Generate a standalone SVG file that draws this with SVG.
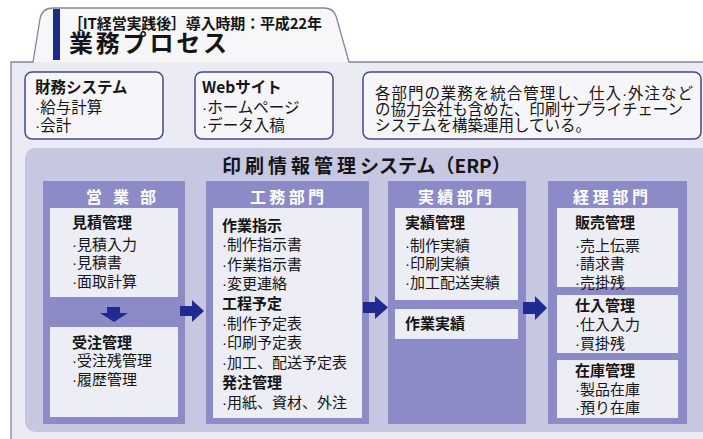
<svg xmlns="http://www.w3.org/2000/svg" width="703" height="439" viewBox="0 0 703 439">
<style>
text{font-family:"Noto Sans CJK JP","Noto Sans",sans-serif;fill:#151515;}
.b{font-weight:700;}
.t15{font-size:15px;}
.t16{font-size:15.5px;}
.d{font-family:"Liberation Sans",sans-serif;}
.hd{font-size:16px;fill:#ffffff;font-weight:700;}
.topbox{fill:#f5f5fa;stroke:#474a8c;stroke-width:1.5;}
.col{fill:#8d8bc7;}
.inner{fill:#ededf6;}
.arrow{fill:#1f2b90;}
</style>
<rect width="703" height="439" fill="#ffffff"/>
<g id="frame">
<path d="M11,440 V62 H33 L40,19 Q42,8 53,8 H324 Q333,8 336,16 L349,62 H706 V440 Z" fill="#ebebf4"/>
<path d="M33,62 L40,19 Q42,8 53,8 H324 Q333,8 336,16 L349,62 Z" fill="#f7f7fa"/>
<path d="M11,440 V62 H33 L40,19 Q42,8 53,8 H324 Q333,8 336,16 L349,62 H706" fill="none" stroke="#85859a" stroke-width="1.3"/>
<rect x="53" y="9" width="7" height="51" fill="#1c2a8c"/>
</g>
<g id="title">
<text x="68" y="29" font-size="15" class="b" textLength="254" lengthAdjust="spacing">［IT経営実践後］導入時期：平成22年</text>
<text x="69" y="52" font-size="24" class="b" textLength="158" lengthAdjust="spacing">業務プロセス</text>
</g>
<g id="zaimu">
<rect class="topbox" x="25" y="72" width="138" height="67" rx="7"/>
<text x="35" y="93" class="t16 b">財務システム</text>
<text x="35" y="113" class="t16"><tspan class="d">·</tspan>給与計算</text>
<text x="35" y="131" class="t16"><tspan class="d">·</tspan>会計</text>
</g>
<g id="web">
<rect class="topbox" x="195" y="72" width="138" height="67" rx="7"/>
<text x="202" y="93" class="t16 b">Webサイト</text>
<text x="202" y="113" class="t16"><tspan class="d">·</tspan>ホームページ</text>
<text x="202" y="131" class="t16"><tspan class="d">·</tspan>データ入稿</text>
</g>
<g id="note">
<rect class="topbox" x="363" y="72" width="338" height="67" rx="7"/>
<text x="375" y="99" class="t16" textLength="318" lengthAdjust="spacing">各部門の業務を統合管理し、仕入<tspan class="d">·</tspan>外注など</text>
<text x="375" y="115" class="t16" textLength="308" lengthAdjust="spacing">の協力会社も含めた、印刷サプライチェーン</text>
<text x="375" y="131" class="t16">システムを構築運用している。</text>
</g>
<g id="erp">
<rect x="25" y="148" width="690" height="284" rx="10" fill="#c8c7e2"/>
<text x="222" y="173" font-size="19" class="b"><tspan letter-spacing="4">印刷情報管理</tspan><tspan>システム（ERP）</tspan></text>
</g>
<g id="eigyo">
<rect class="col" x="43" y="181" width="142" height="243"/>
<text x="86" y="203" class="hd" textLength="70" lengthAdjust="spacing">営業部</text>
<rect class="inner" x="50" y="208" width="128" height="89"/>
<text x="72" y="228" class="t15 b">見積管理</text>
<text x="72" y="250" class="t15"><tspan class="d">·</tspan>見積入力</text>
<text x="72" y="268" class="t15"><tspan class="d">·</tspan>見積書</text>
<text x="72" y="287" class="t15"><tspan class="d">·</tspan>面取計算</text>
<rect class="inner" x="50" y="327" width="128" height="90"/>
<text x="72" y="348" class="t15 b">受注管理</text>
<text x="72" y="366" class="t15"><tspan class="d">·</tspan>受注残管理</text>
<text x="72" y="385" class="t15"><tspan class="d">·</tspan>履歴管理</text>
</g>
<g id="koumu">
<rect class="col" x="206" y="181" width="163" height="243"/>
<text x="250" y="203" class="hd" textLength="74" lengthAdjust="spacing">工務部門</text>
<rect class="inner" x="213" y="208" width="149" height="210"/>
<text x="222" y="231" class="t15 b">作業指示</text>
<text x="222" y="250" class="t15"><tspan class="d">·</tspan>制作指示書</text>
<text x="222" y="270" class="t15"><tspan class="d">·</tspan>作業指示書</text>
<text x="222" y="289" class="t15"><tspan class="d">·</tspan>変更連絡</text>
<text x="222" y="309" class="t15 b">工程予定</text>
<text x="222" y="329" class="t15"><tspan class="d">·</tspan>制作予定表</text>
<text x="222" y="348" class="t15"><tspan class="d">·</tspan>印刷予定表</text>
<text x="222" y="368" class="t15"><tspan class="d">·</tspan>加工、配送予定表</text>
<text x="222" y="388" class="t15 b">発注管理</text>
<text x="222" y="408" class="t15"><tspan class="d">·</tspan>用紙、資材、外注</text>
</g>
<g id="jisseki">
<rect class="col" x="388" y="181" width="138" height="243"/>
<text x="418" y="203" class="hd" textLength="74" lengthAdjust="spacing">実績部門</text>
<rect class="inner" x="395" y="208" width="123" height="92"/>
<text x="405" y="228" class="t15 b">実績管理</text>
<text x="405" y="251" class="t15"><tspan class="d">·</tspan>制作実績</text>
<text x="405" y="269" class="t15"><tspan class="d">·</tspan>印刷実績</text>
<text x="405" y="288" class="t15"><tspan class="d">·</tspan>加工配送実績</text>
<rect class="inner" x="395" y="309" width="123" height="30"/>
<text x="405" y="329" class="t15 b">作業実績</text>
</g>
<g id="keiri">
<rect class="col" x="548" y="181" width="139" height="243"/>
<text x="573" y="203" class="hd" textLength="75" lengthAdjust="spacing">経理部門</text>
<rect class="inner" x="557" y="208" width="121" height="79"/>
<text x="575" y="228" class="t15 b">販売管理</text>
<text x="575" y="251" class="t15"><tspan class="d">·</tspan>売上伝票</text>
<text x="575" y="269" class="t15"><tspan class="d">·</tspan>請求書</text>
<text x="575" y="288" class="t15"><tspan class="d">·</tspan>売掛残</text>
<rect class="inner" x="557" y="295" width="121" height="58"/>
<text x="575" y="311" class="t15 b">仕入管理</text>
<text x="575" y="330" class="t15"><tspan class="d">·</tspan>仕入入力</text>
<text x="575" y="349" class="t15"><tspan class="d">·</tspan>買掛残</text>
<rect class="inner" x="557" y="360" width="121" height="58"/>
<text x="575" y="376" class="t15 b">在庫管理</text>
<text x="575" y="395" class="t15"><tspan class="d">·</tspan>製品在庫</text>
<text x="575" y="413" class="t15"><tspan class="d">·</tspan>預り在庫</text>
</g>
<g id="connectors">
<path class="arrow" d="M107,307 H120 V313 H128 L114,322 L100,313 H107 Z"/>
<path class="arrow" d="M180,306 H192 V300 L204,311 L192,322 V316 H180 Z"/>
<path class="arrow" d="M363,302 H375 V296 L388,307.5 L375,319 V313 H363 Z"/>
<path class="arrow" d="M523,302 H535 V296 L547,308 L535,320 V314 H523 Z"/>
</g>
</svg>
